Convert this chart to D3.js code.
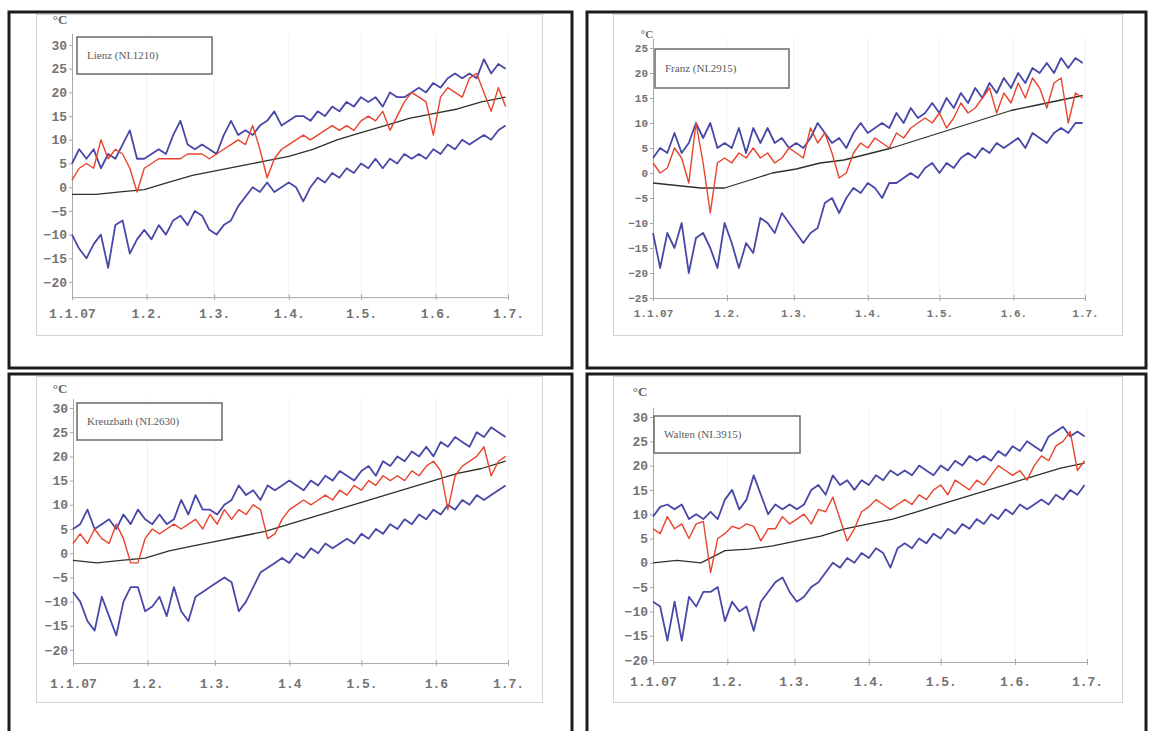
<!DOCTYPE html>
<html>
<head>
<meta charset="utf-8">
<script src="https://cdn.jsdelivr.net/npm/d3@7"></script>
<style>
  body { margin: 0; background: #fff; }
  svg { display: block; }
</style>
</head>
<body>
<svg id="chart" width="1157" height="731"></svg>
<script>
// --- 1. DATA (°C) ---

// tick labels of the time axis
var monthLabels = ["1.1.07", "1.2.", "1.3.", "1.4.", "1.5.", "1.6.", "1.7."];
var monthLabelsKreuz = ["1.1.07", "1.2.", "1.3.", "1.4", "1.5.", "1.6", "1.7."];

// temperature ticks
var tempTicks = [-20, -15, -10, -5, 0, 5, 10, 15, 20, 25, 30];
var tempTicksFranz = [-25, -20, -15, -10, -5, 0, 5, 10, 15, 20, 25];

// station names in the label boxes
var stationNames = ["Lienz (NI.1210)", "Franz (NI.2915)", "Kreuzbath (NI.2630)", "Walten (NI.3915)"];

// days after 1 Jan 2007 at which the jagged curves were read
var sampleDays = [0, 3, 6, 9, 12, 15, 18, 21, 24, 27, 30, 33, 36, 39, 42, 45, 48, 51, 54, 57,
  60, 63, 66, 69, 72, 75, 78, 81, 84, 87, 90, 93, 96, 99, 102, 105, 108, 111, 114, 117,
  120, 123, 126, 129, 132, 135, 138, 141, 144, 147, 150, 153, 156, 159, 162, 165, 168, 171, 174, 177, 180];
// days at which the smooth long-term mean was read
var meanDays = [0, 10, 20, 30, 40, 50, 60, 70, 80, 90, 100, 110, 120, 130, 140, 150, 160, 170, 180];

// Lienz
var lienzMax = [5, 8, 6, 8, 4, 7, 6, 9, 12, 6, 6, 7, 8, 7, 11, 14, 9, 8, 9, 8, 7, 11, 14, 11, 12, 11, 13, 14, 16, 13,
  14, 15, 15, 14, 16, 15, 17, 16, 18, 17, 19, 18, 19, 17, 20, 19, 19, 20, 21, 20, 22, 21, 23, 24, 23, 24, 23, 27, 24, 26, 25];
var lienzMin = [-10, -13, -15, -12, -10, -17, -8, -7, -14, -11, -9, -11, -8, -10, -7, -6, -8, -5, -6, -9, -10, -8, -7, -4, -2, 0, -1, 1, -1, 0,
  1, 0, -3, 0, 2, 1, 3, 2, 4, 3, 5, 4, 6, 4, 6, 5, 7, 6, 7, 6, 8, 7, 9, 8, 10, 9, 10, 11, 10, 12, 13];
var lienzDay = [1.5, 4, 5, 4, 10, 6, 8, 7, 4, -1, 4, 5, 6, 6, 6, 6, 7, 7, 7, 6, 7, 8, 9, 10, 9, 13, 8, 2, 6, 8,
  9, 10, 11, 10, 11, 12, 13, 12, 13, 12, 14, 15, 14, 16, 12, 15, 18, 20, 19, 18, 11, 19, 21, 20, 19, 23, 24, 20, 16, 21, 17];
var lienzMean = [-1.5, -1.5, -1, -0.5, 1, 2.5, 3.5, 4.5, 5.5, 6.5, 8, 10, 11.5, 13, 14.5, 15.5, 16.5, 18, 19];

// Franz
var franzMax = [3, 5, 4, 8, 4, 6, 10, 7, 10, 5, 6, 5, 9, 4, 9, 6, 9, 6, 7, 5, 6, 5, 7, 10, 8, 6, 7, 5, 8, 10,
  8, 9, 10, 9, 12, 10, 13, 11, 12, 14, 12, 15, 13, 16, 14, 17, 15, 18, 16, 19, 17, 20, 18, 21, 20, 22, 20, 23, 21, 23, 22];
var franzMin = [-12, -19, -12, -15, -10, -20, -13, -12, -15, -19, -10, -14, -19, -14, -16, -9, -10, -12, -8, -10, -12, -14, -12, -11, -6, -5, -8, -5, -3, -4,
  -2, -3, -5, -2, -2, -1, 0, -1, 1, 2, 0, 2, 1, 3, 4, 3, 5, 4, 6, 5, 6, 7, 5, 8, 7, 6, 8, 9, 8, 10, 10];
var franzDay = [2, 0, 1, 5, 3, -2, 10, 2, -8, 2, 3, 2, 4, 3, 5, 3, 4, 2, 3, 5, 4, 3, 9, 6, 8, 4, -1, 0, 4, 6,
  5, 7, 6, 5, 8, 7, 9, 10, 11, 10, 12, 9, 11, 14, 12, 13, 15, 17, 12, 16, 14, 18, 15, 19, 17, 13, 18, 19, 10, 16, 15];
var franzMean = [-2, -2.5, -3, -3, -1.5, 0, 0.8, 2, 2.6, 3.8, 5, 6.5, 8, 9.5, 11, 12.5, 13.5, 14.5, 15.5];

// Kreuzbath
var kreuzMax = [5, 6, 9, 5, 6, 7, 5, 8, 6, 9, 7, 6, 8, 6, 7, 11, 8, 12, 9, 9, 8, 10, 11, 14, 12, 13, 11, 14, 13, 14,
  15, 14, 13, 15, 14, 16, 15, 17, 16, 15, 17, 18, 16, 19, 18, 20, 19, 21, 20, 22, 20, 23, 22, 24, 23, 22, 25, 24, 26, 25, 24];
var kreuzMin = [-8, -10, -14, -16, -9, -13, -17, -10, -7, -7, -12, -11, -9, -13, -7, -12, -14, -9, -8, -7, -6, -5, -6, -12, -10, -7, -4, -3, -2, -1,
  -2, 0, -1, 1, 0, 2, 1, 2, 3, 2, 4, 3, 5, 4, 6, 5, 7, 6, 8, 7, 9, 8, 10, 9, 11, 10, 12, 11, 12, 13, 14];
var kreuzDay = [2, 4, 2, 5, 3, 2, 6, 3, -2, -2, 3, 5, 4, 5, 6, 5, 6, 7, 5, 8, 6, 9, 7, 9, 8, 10, 9, 3, 4, 7,
  9, 10, 11, 10, 11, 12, 11, 13, 12, 14, 13, 15, 14, 16, 15, 16, 15, 17, 16, 18, 19, 17, 9, 16, 18, 19, 20, 22, 16, 19, 20];
var kreuzMean = [-1.5, -2, -1.5, -1, 0.5, 1.5, 2.5, 3.5, 4.5, 6, 7.5, 9, 10.5, 12, 13.5, 15, 16.5, 17.5, 19];

// Walten
var waltenMax = [9.5, 11.5, 12, 11, 12, 9, 10, 9, 10.5, 9, 13, 15, 11, 13, 18, 14, 10, 12, 11, 12, 11, 12, 15, 16, 14, 18, 16, 17, 15, 17,
  16, 18, 17, 19, 18, 19, 18, 20, 19, 18, 20, 19, 21, 20, 22, 21, 22, 21, 23, 22, 24, 23, 25, 24, 23, 26, 27, 28, 26, 27, 26];
var waltenMin = [-8, -9, -16, -8, -16, -7, -9, -6, -6, -5, -12, -8, -10, -9, -14, -8, -6, -4, -3, -6, -8, -7, -5, -4, -2, 0, -1, 1, 0, 2,
  1, 3, 2, -1, 3, 4, 3, 5, 4, 6, 5, 7, 6, 8, 7, 9, 8, 10, 9, 11, 10, 12, 11, 12, 13, 12, 14, 13, 15, 14, 16];
var waltenDay = [7, 6, 9.5, 7, 8, 5, 8, 8.5, -2, 5, 6, 7.5, 7, 8, 7.5, 4.5, 7, 7, 9.5, 8, 9, 10, 8, 11, 10.5, 13.5, 9, 4.5, 7, 10.5,
  11.5, 13, 12, 11, 12, 13, 12, 14, 13, 15, 16, 14, 17, 16, 15, 17, 16, 18, 20, 19, 18, 19, 17, 20, 22, 21, 24, 25, 27, 19, 21];
var waltenMean = [0, 0.5, 0, 2.5, 2.8, 3.5, 4.5, 5.5, 7, 8, 9, 10.5, 12, 13.5, 15, 16.5, 18, 19.5, 20.5];

// --- 2. PANEL LAYOUT (page pixels) ---
var panels = [
  { name: stationNames[0], max: lienzMax, min: lienzMin, day: lienzDay, mean: lienzMean,
    frame: [9, 12, 563, 356], inner: [36, 14, 506, 321],
    x0: 72, x1: 508, yDom: [-20, 30], yRange: [282, 45], axisLo: -23.2, axisHi: 32.5,
    ticks: tempTicks, labels: monthLabels, font: 13, xLabelY: 313,
    unit: [60, 24], box: [77, 37, 135, 37] },
  { name: stationNames[1], max: franzMax, min: franzMin, day: franzDay, mean: franzMean,
    frame: [587, 12, 559, 356], inner: [613, 14, 509, 321],
    x0: 653, x1: 1085, yDom: [-25, 25], yRange: [298, 48], axisLo: -25, axisHi: 27,
    ticks: tempTicksFranz, labels: monthLabels, font: 11, xLabelY: 313,
    unit: [647, 38], box: [655, 49, 134, 39] },
  { name: stationNames[2], max: kreuzMax, min: kreuzMin, day: kreuzDay, mean: kreuzMean,
    frame: [9, 374, 563, 370], inner: [36, 376, 506, 326],
    x0: 73, x1: 508, yDom: [-20, 30], yRange: [650, 408], axisLo: -22.7, axisHi: 32,
    ticks: tempTicks, labels: monthLabelsKreuz, font: 13, xLabelY: 683,
    unit: [60, 393], box: [77, 403, 145, 37] },
  { name: stationNames[3], max: waltenMax, min: waltenMin, day: waltenDay, mean: waltenMean,
    frame: [587, 374, 559, 370], inner: [613, 376, 509, 326],
    x0: 653, x1: 1087, yDom: [-20, 30], yRange: [660, 417], axisLo: -20.4, axisHi: 32,
    ticks: tempTicks, labels: monthLabels, font: 13, xLabelY: 681,
    unit: [640, 396], box: [654, 416, 146, 37] }
];

var COLOR_MAX_MIN = "#4848a8";
var COLOR_DAY = "#e8432c";
var COLOR_MEAN = "#283428";

var svg = d3.select("#chart");
var start = new Date(2007, 0, 1);
var end = new Date(2007, 6, 1);
var monthTicks = d3.timeMonth.range(start, d3.timeDay.offset(end, 1));

function toPoints(days, values) {
  return days.map(function(d, i) { return { date: d3.timeDay.offset(start, d), v: values[i] }; });
}

function drawPanel(p) {
  var g = svg.append("g");

  var x = d3.scaleTime().domain([start, end]).range([p.x0, p.x1]);
  var y = d3.scaleLinear().domain(p.yDom).range(p.yRange);
  var yAx = y.copy().domain([p.axisLo, p.axisHi]).range([y(p.axisLo), y(p.axisHi)]);
  var yBottom = y(p.axisLo);

  // outer black frame and light inner frame
  g.append("rect")
    .attr("x", p.frame[0]).attr("y", p.frame[1])
    .attr("width", p.frame[2]).attr("height", p.frame[3])
    .attr("fill", "none").attr("stroke", "#1c1c1c").attr("stroke-width", 3);
  g.append("rect")
    .attr("x", p.inner[0] + 0.5).attr("y", p.inner[1] + 0.5)
    .attr("width", p.inner[2]).attr("height", p.inner[3])
    .attr("fill", "none").attr("stroke", "#d4d4d4").attr("stroke-width", 1);

  // faint month grid
  g.selectAll(".grid")
    .data(monthTicks.slice(1))
    .enter().append("line")
    .attr("x1", function(d) { return x(d); }).attr("x2", function(d) { return x(d); })
    .attr("y1", y(p.axisHi)).attr("y2", yBottom)
    .attr("stroke", "#f1f1f1").attr("stroke-width", 1);

  // axes
  var yAxis = g.append("g")
    .attr("transform", "translate(" + p.x0 + ",0)")
    .call(d3.axisLeft(yAx).tickValues(p.ticks).tickSize(3).tickSizeOuter(0).tickPadding(2));
  var xAxis = g.append("g")
    .attr("transform", "translate(0," + yBottom + ")")
    .call(d3.axisBottom(x).tickValues(monthTicks).tickSize(3).tickSizeOuter(0)
      .tickFormat(function(d, i) { return p.labels[i]; }));

  [yAxis, xAxis].forEach(function(a) {
    a.select(".domain").attr("stroke", "#a8a8a8");
    a.selectAll(".tick line").attr("stroke", "#a8a8a8");
    a.selectAll(".tick text")
      .attr("fill", "#737373")
      .style("font-family", "'Liberation Mono', 'DejaVu Sans Mono', monospace")
      .style("font-weight", "bold")
      .style("font-size", p.font + "px");
  });
  xAxis.selectAll(".tick line").attr("y1", -3);
  xAxis.selectAll(".tick text").attr("y", p.xLabelY - yBottom).attr("dy", "0.35em");

  // unit
  g.append("text")
    .attr("x", p.unit[0]).attr("y", p.unit[1])
    .attr("text-anchor", "middle")
    .attr("fill", "#666")
    .style("font-family", "'Liberation Serif', serif")
    .style("font-weight", "bold")
    .style("font-size", p.font + "px")
    .text("°C");

  // curves
  var line = d3.line()
    .x(function(d) { return x(d.date); })
    .y(function(d) { return y(d.v); });

  var series = [
    { pts: toPoints(sampleDays, p.min), color: COLOR_MAX_MIN, w: 1.8 },
    { pts: toPoints(sampleDays, p.max), color: COLOR_MAX_MIN, w: 1.8 },
    { pts: toPoints(meanDays, p.mean), color: COLOR_MEAN, w: 1.3 },
    { pts: toPoints(sampleDays, p.day), color: COLOR_DAY, w: 1.4 }
  ];
  g.selectAll(".curve")
    .data(series)
    .enter().append("path")
    .attr("d", function(s) { return line(s.pts); })
    .attr("fill", "none")
    .attr("stroke", function(s) { return s.color; })
    .attr("stroke-width", function(s) { return s.w; })
    .attr("stroke-linejoin", "round");

  // station label box
  g.append("rect")
    .attr("x", p.box[0]).attr("y", p.box[1])
    .attr("width", p.box[2]).attr("height", p.box[3])
    .attr("fill", "#fff").attr("stroke", "#6a6a6a").attr("stroke-width", 1.5);
  g.append("text")
    .attr("x", p.box[0] + 10).attr("y", p.box[1] + p.box[3] / 2)
    .attr("dy", "0.35em")
    .attr("fill", "#5a5a5a")
    .style("font-family", "'Liberation Serif', serif")
    .style("font-size", "11px")
    .text(p.name);
}

panels.forEach(drawPanel);
</script>
</body>
</html>
